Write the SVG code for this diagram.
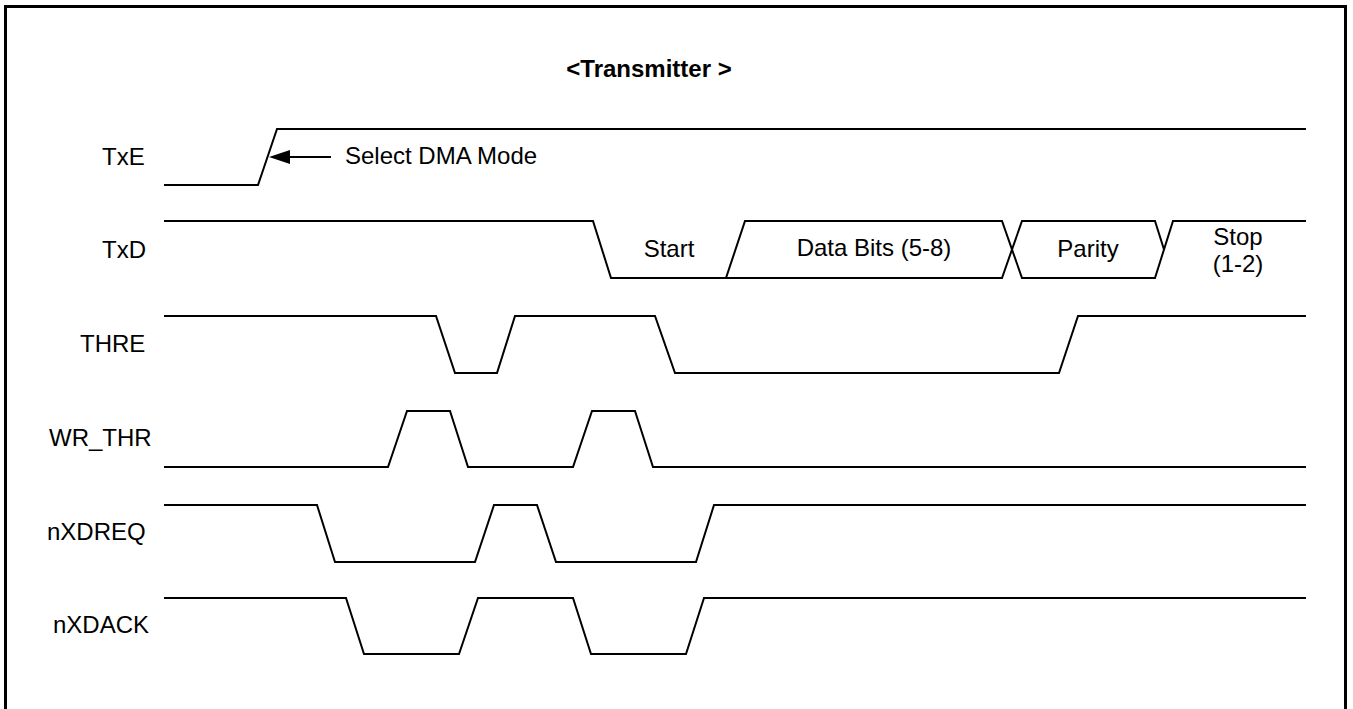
<svg xmlns="http://www.w3.org/2000/svg" width="1353" height="709" viewBox="0 0 1353 709">
<style>
.sig{fill:none;stroke:#000;stroke-width:2;stroke-linejoin:miter}
.lbl{font-family:"Liberation Sans",Arial,sans-serif;font-size:24px;fill:#000}
.ttl{font-family:"Liberation Sans",Arial,sans-serif;font-size:24px;font-weight:bold;fill:#000}
</style>
<rect x="0" y="0" width="1353" height="709" fill="#fff"/>
<rect id="frame" x="5.5" y="6.5" width="1340" height="712" fill="none" stroke="#000" stroke-width="3"/>
<g id="title"><text class="ttl" x="649" y="77" text-anchor="middle">&lt;Transmitter &gt;</text></g>
<g id="labels">
<text class="lbl" x="102" y="165">TxE</text>
<text class="lbl" x="102" y="258">TxD</text>
<text class="lbl" x="80" y="352">THRE</text>
<text class="lbl" x="49" y="446">WR_THR</text>
<text class="lbl" x="47" y="540">nXDREQ</text>
<text class="lbl" x="53" y="633">nXDACK</text>
</g>
<g id="TxE">
<polyline class="sig" points="164,185 258,185 277,129 1306,129"/>
</g>
<g id="TxD">
<polyline class="sig" points="164,221 593,221 611,278 1002,278 1022,221 1155,221 1164,249.5"/>
<polyline class="sig" points="726,278 745,221 1002,221 1022,278 1155,278 1173,221 1306,221"/>
<text class="lbl" x="669" y="257" text-anchor="middle">Start</text>
<text class="lbl" x="874" y="256" text-anchor="middle">Data Bits (5-8)</text>
<text class="lbl" x="1088" y="257" text-anchor="middle">Parity</text>
<text class="lbl" x="1238" y="245" text-anchor="middle">Stop</text>
<text class="lbl" x="1238" y="272" text-anchor="middle">(1-2)</text>
</g>
<g id="THRE">
<polyline class="sig" points="164,316 436,316 455,373 497,373 515,316 655,316 675,373 1059,373 1078,316 1306,316"/>
</g>
<g id="WR_THR">
<polyline class="sig" points="164,467 388,467 407,411 450,411 468,467 573,467 592,411 635,411 653,467 1306,467"/>
</g>
<g id="nXDREQ">
<polyline class="sig" points="164,505 317,505 335,562 475,562 494,505 537,505 556,562 696,562 714,505 1306,505"/>
</g>
<g id="nXDACK">
<polyline class="sig" points="164,598 346,598 364,654 459,654 478,598 573,598 591,654 686,654 704,598 1306,598"/>
</g>
<g id="connectors">
<line class="sig" x1="331" y1="157" x2="285" y2="157"/>
<polygon points="269,157 290,150 290,164" fill="#000"/>
<text class="lbl" x="345" y="164">Select DMA Mode</text>
</g>
</svg>
